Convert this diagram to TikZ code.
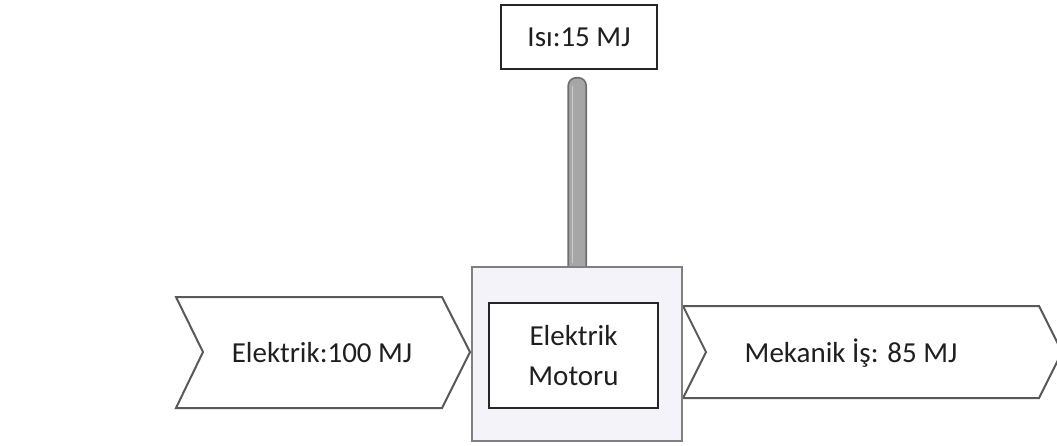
\documentclass[tikz,border=0pt]{standalone}
\usepackage{fontspec}
\setmainfont{Carlito}
\usetikzlibrary{calc}
\definecolor{chevline}{HTML}{595959}
\definecolor{motorline}{HTML}{7F7F7F}
\definecolor{motorfill}{HTML}{F3F3F9}
\definecolor{pipefill}{HTML}{A6A6A6}
\definecolor{pipeline}{HTML}{6E6E6E}
\definecolor{txt}{HTML}{1F1F1F}
\begin{document}
\begin{tikzpicture}[x=1pt,y=-1pt,
  chev/.style={draw=chevline, fill=white, line width=2pt, line join=miter},
  lbl/.style={text=txt, font={\fontsize{29}{40}\selectfont}, inner sep=0pt},
  boxed/.style={draw=black!85, fill=white, line width=1.4pt, text=txt,
    font={\fontsize{29}{40}\selectfont}, align=center}]
\useasboundingbox (0,0) rectangle (1057,445);
% heat box
\node[boxed, minimum width=156pt, minimum height=64pt] (heat) at (579,37) {Isı:15 MJ};
% left chevron
\draw[chev] (176,297) -- (442,297) -- (470,352) -- (442,408) -- (176,408) -- (203,352) -- cycle;
\node[lbl] (elec) at (322,353) {Elektrik:100 MJ};
% right chevron
\draw[chev] (683,306) -- (1039,306) -- (1062,352) -- (1039,398) -- (683,398) -- (706,352) -- cycle;
\node[lbl] (mech) at (851,353) {Mekanik İş: 85 MJ};
% motor
\node[draw=motorline, fill=motorfill, line width=2.4pt, minimum width=210pt,
  minimum height=174pt, anchor=north west, inner sep=0pt] (motor) at (471,266) {};
\node[boxed, minimum width=169pt, minimum height=105pt] (inner) at (573.5,355.5) {Elektrik\\Motoru};
% pipe
\coordinate (pbot) at (motor.north);
\coordinate (ptop) at ($(heat.south)+(0,8)$);
\draw[fill=pipefill, draw=pipeline, line width=1.6pt, rounded corners=8pt]
  let \p1=(pbot), \p2=(ptop) in
  (\x1-9pt,\y1) -- (\x1-9pt,\y2) -- (\x1+9pt,\y2) -- (\x1+9pt,\y1);
\draw[draw=black!20, line width=0.8pt]
  let \p1=(pbot), \p2=(ptop) in
  (\x1-5pt,\y1+3pt) -- (\x1-5pt,\y2-8pt);
\end{tikzpicture}
\end{document}
